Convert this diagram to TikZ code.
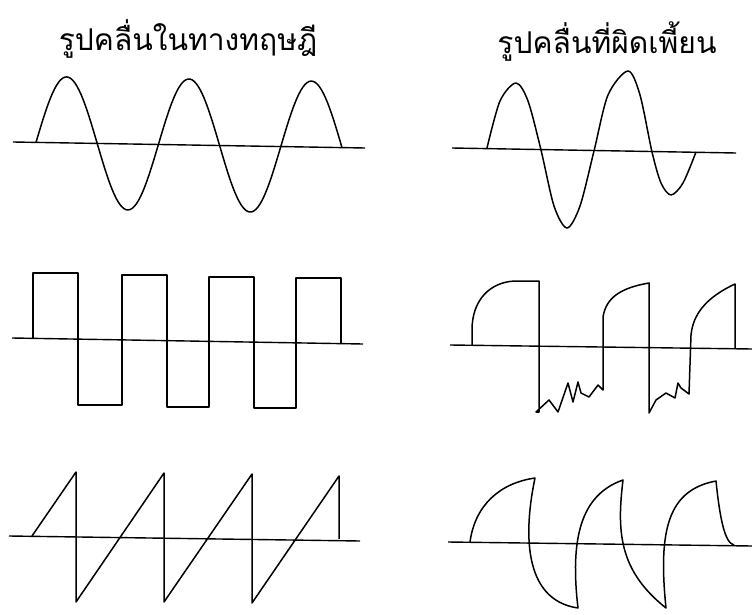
\documentclass[tikz,border=0pt]{standalone}
\usepackage{fontspec}
\newfontfamily\thaifont[Script=Thai]{Loma}
\begin{document}
\begin{tikzpicture}[x=1pt,y=-1pt]

    \tikzset{
      wave/.style={
        color={black},
        line width=1.5pt,
        line join=round,
      },
      axis/.style={
        color={black},
        line width=1.4pt,
      },
      title/.style={
        anchor=base,
        inner sep=0pt,
        font=\thaifont\fontsize{30}{34}\selectfont,
      },
    }
    \useasboundingbox (0,0) rectangle (752,615);

	% titles
	\node[title] (theory) at (188,51) {รูปคลื่นในทางทฤษฎี};
	\node[title] (distorted) at (607,54) {รูปคลื่นที่ผิดเพี้ยน};

	% sine
	\draw[axis] (13,142)--(365,148);
	\draw[wave] plot[domain=36:342, samples=150] (\x, {142+0.017*(\x-13)-66*sin(2.9412*(\x-36))});

	\draw[axis] (452,148)--(736,153);
	\draw[wave] plot[smooth] coordinates {(487,148) (500,101) (516,83) (528,101) (541,150)
	  (554,206) (567,228) (580,206) (594,151) (608,95) (628,71) (640,95) (652,152)
	  (661,183) (671,195) (683,183) (696,152)};

	% square
	\draw[axis] (12,338)--(363,344);
	\draw[wave] (33,338)--(33,273)--(78,273)--(78,405)--(122,405)--(122,275)--(167,275)--(167,407)
	  --(209,407)--(209,277)--(254,277)--(254,408)--(296,408)--(296,278)--(341,278)--(341,343);

	\draw[axis] (450,345)--(752,349);
	\draw[wave] (472,345)--(472,330) .. controls (472,300) and (490,282) .. (515,281)--(539,281)
	  --(539,412)--(536,412)--(549,400)--(558,412)--(568,383)--(573,402)--(578,382)--(581,393)
	  --(589,397)--(598,385)--(603,390)--(603,317) .. controls (606,298) and (620,288) .. (649,283)
	  --(649,413)--(656,400)--(666,393)--(675,398)--(678,383)--(681,388)--(689,394)
	  --(691,335) .. controls (693,315) and (705,298) .. (735,284)--(735,349);

	% sawtooth
	\draw[axis] (9,536)--(360,541);
	\draw[wave] (32,536)--(76,472)--(76,602)--(164,473)--(164,602)--(252,474)--(252,603)
	  --(339,476)--(339,539);

	\draw[axis] (448,542)--(752,546);
	\draw[wave] (470,542) .. controls (475,505) and (500,483) .. (535,478)
	  .. controls (524,530) and (522,600) .. (578,608)
	  .. controls (570,540) and (580,495) .. (623,480)
	  .. controls (617,530) and (618,570) .. (666,608)
	  .. controls (658,530) and (668,490) .. (716,481)
	  .. controls (720,520) and (725,543) .. (734,545);

\end{tikzpicture}
\end{document}
